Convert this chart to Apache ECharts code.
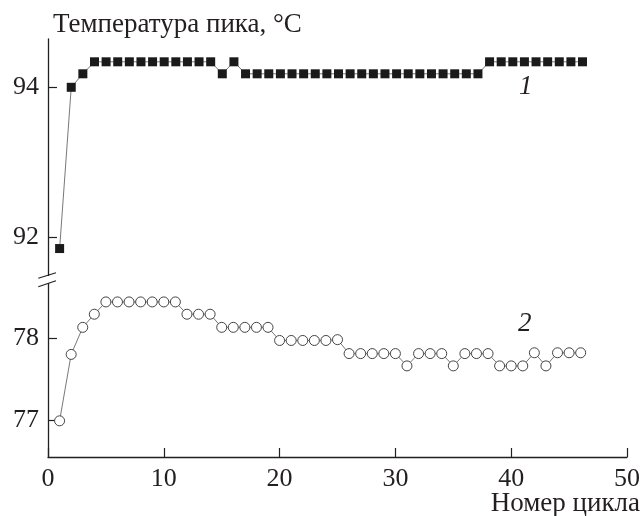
<!DOCTYPE html>
<html>
<head>
<meta charset="utf-8">
<script src="https://cdn.jsdelivr.net/npm/echarts@6/dist/echarts.min.js"></script>
<style>html,body{margin:0;padding:0;background:#fff}#c{width:643px;height:516px}</style>
</head>
<body>
<div id="c"></div>
<script>
// Data
const cycles = [1,2,3,4,5,6,7,8,9,10,11,12,13,14,15,16,17,18,19,20,21,22,23,24,25,26,27,28,29,30,31,32,33,34,35,36,37,38,39,40,41,42,43,44,45,46];
const series1 = [91.85,94.0,94.18,94.34,94.34,94.34,94.34,94.34,94.34,94.34,94.34,94.34,94.34,94.34,94.18,94.34,94.18,94.18,94.18,94.18,94.18,94.18,94.18,94.18,94.18,94.18,94.18,94.18,94.18,94.18,94.18,94.18,94.18,94.18,94.18,94.18,94.18,94.34,94.34,94.34,94.34,94.34,94.34,94.34,94.34,94.34];
const series2 = [76.99,77.80,78.13,78.29,78.44,78.44,78.44,78.44,78.44,78.44,78.44,78.29,78.29,78.29,78.13,78.13,78.13,78.13,78.13,77.97,77.97,77.97,77.97,77.97,77.98,77.81,77.81,77.81,77.81,77.81,77.66,77.81,77.81,77.81,77.66,77.81,77.81,77.81,77.66,77.66,77.66,77.82,77.66,77.82,77.82,77.82];
const xTicks = [0,10,20,30,40,50];
const upperTicks = [92,94];
const lowerTicks = [77,78];
const yTitle = 'Температура пика, °C';
const xTitle = 'Номер цикла';

const FONT = 'Liberation Serif';
const INK = '#231f20';
const chart = echarts.init(document.getElementById('c'), null, {renderer:'canvas'});
const axisLine = {show:true, lineStyle:{color:INK, width:1.3}};
const tick = {show:true, inside:true, length:9, lineStyle:{color:INK, width:1.2}};
const lbl = {color:INK, fontFamily:FONT, fontSize:26};

const option = {
  animation:false,
  backgroundColor:'#fff',
  title:{text:yTitle, left:48, top:6, textStyle:{fontFamily:FONT, fontSize:27, fontWeight:'normal', color:INK}},
  grid:[
    {left:48, right:14, top:39, height:243},
    {left:48, right:14, top:282, bottom:59}
  ],
  xAxis:[
    {gridIndex:0, type:'value', min:0, max:50, interval:10, show:false},
    {gridIndex:1, type:'value', min:0, max:50, interval:10,
     axisLine:axisLine, axisTick:tick, splitLine:{show:false},
     axisLabel:Object.assign({margin:9}, lbl)}
  ],
  yAxis:[
    {gridIndex:0, type:'value', min:91.404, max:94.644, splitLine:{show:false},
     axisLine:axisLine,
     axisTick:Object.assign({customValues:upperTicks}, tick),
     axisLabel:Object.assign({customValues:upperTicks, margin:9}, lbl)},
    {gridIndex:1, type:'value', min:76.549, max:78.683, splitLine:{show:false},
     axisLine:axisLine,
     axisTick:Object.assign({customValues:lowerTicks}, tick),
     axisLabel:Object.assign({customValues:lowerTicks, margin:9}, lbl)}
  ],
  series:[
    {type:'line', xAxisIndex:0, yAxisIndex:0, data:cycles.map((c,i)=>[c,series1[i]]),
     symbol:'rect', symbolSize:9, itemStyle:{color:'#1a1a1a'},
     lineStyle:{color:'#555', width:0.8}, z:3},
    {type:'line', xAxisIndex:1, yAxisIndex:1, data:cycles.map((c,i)=>[c,series2[i]]),
     symbol:'circle', symbolSize:10, showAllSymbol:true,
     itemStyle:{color:'#fff', borderColor:'#444', borderWidth:1},
     lineStyle:{color:'#555', width:0.8}, z:3}
  ],
  graphic:[
    {type:'rect', shape:{x:45, y:276, width:7, height:7}, style:{fill:'#fff'}, z:100},
    {type:'line', shape:{x1:38.3, y1:278.3, x2:56, y2:272.7}, style:{stroke:INK, lineWidth:1.2}, z:101},
    {type:'line', shape:{x1:38.3, y1:286.7, x2:56, y2:280.7}, style:{stroke:INK, lineWidth:1.2}, z:101},
    {type:'text', left:519, top:73, style:{text:'1', font:'italic 27px "Liberation Serif"', fill:INK}, z:100},
    {type:'text', left:518, top:310, style:{text:'2', font:'italic 27px "Liberation Serif"', fill:INK}, z:100},
    {type:'text', right:3, top:490, style:{text:xTitle, font:'27px "Liberation Serif"', fill:INK}, z:100}
  ]
};
chart.setOption(option);
</script>
</body>
</html>
